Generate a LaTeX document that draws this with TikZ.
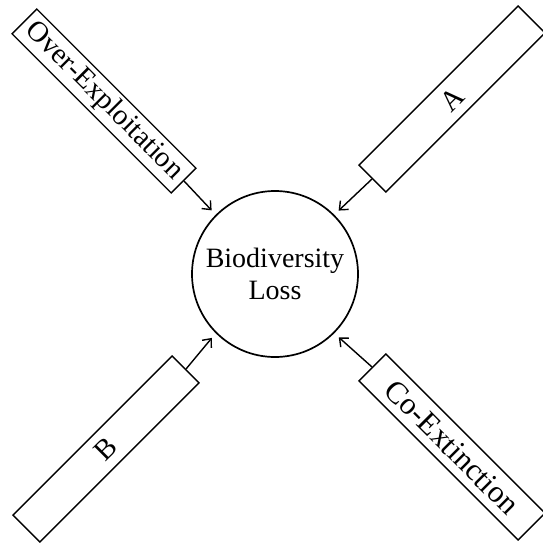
\documentclass[tikz,border=0pt]{standalone}
\usepackage{fontspec}
\setmainfont{Liberation Serif}
\usetikzlibrary{arrows.meta}
\tikzset{
  cause/.style={draw, line width=1.4pt, inner sep=0pt, minimum width=225pt, minimum height=38pt, font=\fontsize{29}{32}\selectfont},
  arr/.style={line width=1.4pt, -{Straight Barb[length=7pt,width=12pt,line width=1.4pt]}, shorten >=6pt},
}
\begin{document}
\begin{tikzpicture}[x=1pt,y=1pt]
\useasboundingbox (0,0) rectangle (542,-544);
\node[circle, draw, line width=1.7pt, minimum size=166pt, inner sep=0pt, align=center,
      font=\fontsize{28}{32}\selectfont] (c) at (275,-274) {Biodiversity\\Loss};
\node[cause, rotate=-45, minimum height=35pt] (tl) at (104,-101) {Over-Exploitation};
\node[cause, rotate=45] (tr) at (452,-99) {A};
\node[cause, rotate=45] (bl) at (106,-449) {B};
\node[cause, rotate=-45, font=\fontsize{31}{32}\selectfont] (br) at (452,-447) {Co-Extinction};
\draw[arr] (tl.east) -- (c.north west);
\draw[arr] (tr.west) -- (c.north east);
\draw[arr] (bl.east) -- (c.south west);
\draw[arr] (br.west) -- (c.south east);
\end{tikzpicture}
\end{document}
